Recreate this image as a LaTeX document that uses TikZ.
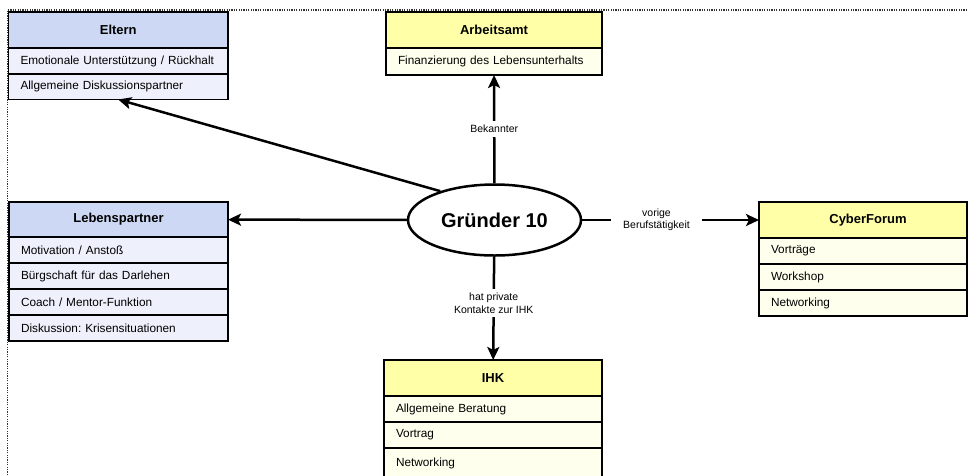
\documentclass[tikz,border=0pt]{standalone}
\usepackage{fontspec}
\setmainfont{Liberation Sans}
\usetikzlibrary{shapes.geometric,arrows.meta}
\definecolor{hdrblue}{HTML}{CCD8F4}
\definecolor{rowblue}{HTML}{EEF0FB}
\definecolor{hdryel}{HTML}{FFFFA8}
\definecolor{rowyel}{HTML}{FFFFEE}
\frenchspacing
\begin{document}
\begin{tikzpicture}[x=1pt,y=-1pt,
  box/.style={draw=black, line width=1.4pt, anchor=north west, inner sep=0pt, outer sep=0pt},
  hdr/.style={box, font=\fontsize{13}{15}\selectfont\bfseries, align=center},
  row/.style={box, font=\fontsize{11.8}{13}\selectfont, align=left, inner xsep=12pt},
  bhdr/.style={hdr, fill=hdrblue},
  brow/.style={row, fill=rowblue},
  yhdr/.style={hdr, fill=hdryel},
  yrow/.style={row, fill=rowyel},
  conn/.style={line width=2.5pt, -{Stealth[length=13pt,width=12pt,inset=3pt]}},
  lbl/.style={fill=white, font=\fontsize{10.5}{12.5}\selectfont, align=center, inner xsep=12pt, inner ysep=4pt},
  frame/.style={line width=1.2pt, dash pattern=on 1.2pt off 1.2pt, black!80}
]
\useasboundingbox (0,0) rectangle (968,475);
\clip (0,0) rectangle (968,475);
\draw[frame] (7.5,475) -- (7.5,10) -- (968,10);

% Eltern
\node[bhdr, text width=219.5pt, minimum height=36pt] (elt) at (8.5,12) {Eltern};
\node[brow, text width=195.5pt, minimum height=26pt] (elt1) at (elt.south west) {Emotionale Unterstützung / Rückhalt};
\node[brow, text width=195.5pt, minimum height=25.5pt] (elt2) at (elt1.south west) {Allgemeine Diskussionspartner};

% Lebenspartner
\node[bhdr, text width=219pt, minimum height=35pt] (leb) at (9,202) {Lebenspartner};
\node[brow, text width=195pt, minimum height=26pt] (leb1) at (leb.south west) {Motivation / Anstoß};
\node[brow, text width=195pt, minimum height=26pt] (leb2) at (leb1.south west) {Bürgschaft für das Darlehen};
\node[brow, text width=195pt, minimum height=26pt] (leb3) at (leb2.south west) {Coach / Mentor-Funktion};
\node[brow, text width=195pt, minimum height=26pt] (leb4) at (leb3.south west) {Diskussion: Krisensituationen};

% Arbeitsamt
\node[yhdr, text width=216pt, minimum height=36pt] (arb) at (386,12) {Arbeitsamt};
\node[yrow, text width=192pt, minimum height=27pt] (arb1) at (arb.south west) {Finanzierung des Lebensunterhalts};

% CyberForum
\node[yhdr, text width=208pt, minimum height=36pt] (cyb) at (759,202) {\hspace*{10pt}CyberForum};
\node[yrow, text width=184pt, minimum height=26pt] (cyb1) at (cyb.south west) {Vorträge};
\node[yrow, text width=184pt, minimum height=26pt] (cyb2) at (cyb1.south west) {Workshop};
\node[yrow, text width=184pt, minimum height=26pt] (cyb3) at (cyb2.south west) {Networking};

% IHK
\node[yhdr, text width=218pt, minimum height=36pt] (ihk) at (384,360) {IHK};
\node[yrow, text width=194pt, minimum height=26pt] (ihk1) at (ihk.south west) {Allgemeine Beratung};
\node[yrow, text width=194pt, minimum height=26pt] (ihk2) at (ihk1.south west) {Vortrag};
\node[yrow, text width=194pt, minimum height=30pt] (ihk3) at (ihk2.south west) {Networking};

% Center
\node[ellipse, draw, line width=2.5pt, minimum width=173pt, minimum height=71pt, inner sep=0pt,
      font=\fontsize{20}{24}\selectfont\bfseries] (g) at (494.5,220) {Gründer 10};

% Connectors
\draw[conn] (g.152) -- (elt2.south);
\draw[conn] (g) -- (leb);
\draw[conn] (g) -- node[lbl]{Bekannter} (arb1);
\draw[conn] (g) -- node[lbl, pos=0.42]{vorige\\Berufstätigkeit} (cyb);
\draw[conn] (g) -- node[lbl, pos=0.45]{hat private\\Kontakte zur IHK} (ihk);
\end{tikzpicture}
\end{document}
